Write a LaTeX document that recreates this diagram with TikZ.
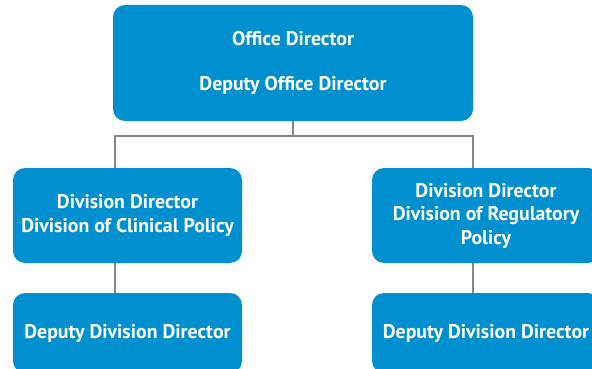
\documentclass[tikz,border=0pt]{standalone}
\usepackage{fontspec}
\setmainfont{PT Sans}
\definecolor{boxblue}{HTML}{008FCF}
\definecolor{linegray}{HTML}{80878D}
\begin{document}
\begin{tikzpicture}[x=1pt,y=-1pt,
  orgbox/.style={draw=none,fill=boxblue,rounded corners=12pt,text=white,
    font=\bfseries\fontsize{19.8}{23.5}\selectfont,align=center,inner sep=0pt},
  conn/.style={draw=linegray,line width=2.6pt}]
\useasboundingbox (0,0) rectangle (592,369);
\clip (0,0) rectangle (592,369);
\node[orgbox,minimum width=360pt,minimum height=116pt] (top) at (293,63)
  {Office Director\\[22pt]Deputy Office Director};
\node[orgbox,minimum width=229pt,minimum height=95pt] (left) at (127.5,215.5)
  {Division Director\\Division of Clinical Policy};
\node[orgbox,minimum width=228pt,minimum height=95pt] (right) at (486,215.5)
  {Division Director\\Division of Regulatory\\Policy};
\node[orgbox,minimum width=229pt,minimum height=80pt] (bleft) at (127.5,333)
  {Deputy Division Director};
\node[orgbox,minimum width=228pt,minimum height=80pt] (bright) at (486,333)
  {Deputy Division Director};
\coordinate (j) at (293,136);
\draw[conn] (top.south) -- (j);
\draw[conn] (j) -| ([xshift=-12.5pt]left.north);
\draw[conn] (j) -| ([xshift=-13pt]right.north);
\draw[conn] ([xshift=-12.5pt]left.south) -- ([xshift=-12.5pt]bleft.north);
\draw[conn] ([xshift=-13pt]right.south) -- ([xshift=-13pt]bright.north);
\end{tikzpicture}
\end{document}
